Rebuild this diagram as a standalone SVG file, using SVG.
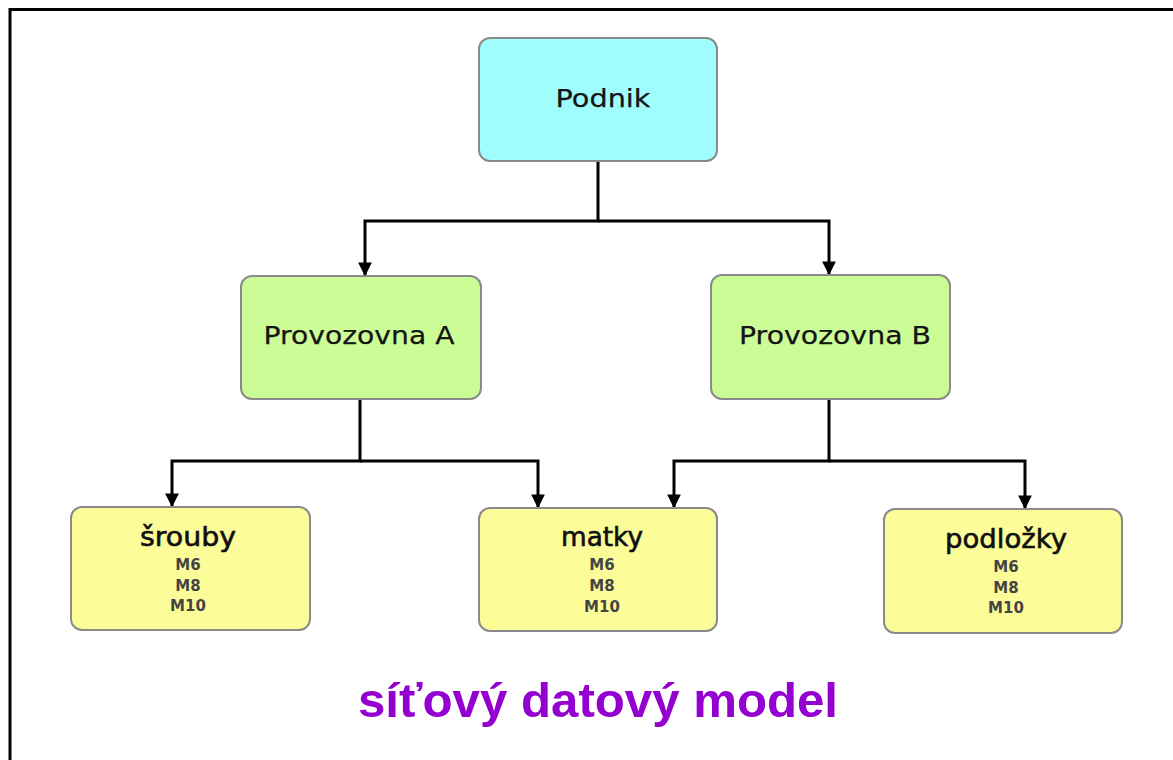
<svg xmlns="http://www.w3.org/2000/svg" width="1173" height="760" viewBox="0 0 1173 760">
<style>
.box{stroke:#8a8a8a;stroke-width:2}
.top{fill:#9ffdfd}
.mid{fill:#ccfc95}
.leaf{fill:#fcfc99}
.lbl{font-family:"DejaVu Sans",Verdana,sans-serif;font-size:25px;fill:#151515;text-anchor:middle;stroke:#151515;stroke-width:0.25}
.head{font-family:"DejaVu Sans",Verdana,sans-serif;font-size:26px;fill:#101010;text-anchor:middle;stroke:#101010;stroke-width:0.6}
.sub{font-family:"DejaVu Sans",Verdana,sans-serif;font-size:15px;font-weight:bold;fill:#444;text-anchor:middle}
.ttl{font-family:"Liberation Sans",Arial,sans-serif;font-size:49px;font-weight:bold;fill:#9400d0;text-anchor:middle}
.con{fill:none;stroke:#000;stroke-width:3}
</style>
<defs>
<marker id="arr" markerWidth="4.6" markerHeight="4.6" refX="4.2" refY="2.3" orient="auto" markerUnits="strokeWidth">
<path d="M0,0 L4.6,2.3 L0,4.6 Z" fill="#000"/>
</marker>
</defs>
<rect width="1173" height="760" fill="#fff"/>
<path d="M10,760 V9.5 H1173" fill="none" stroke="#000" stroke-width="3"/>
<g id="connectors">
<path class="con" d="M598,161 V221 H365 V275" marker-end="url(#arr)"/>
<path class="con" d="M598,221 H829 V274" marker-end="url(#arr)"/>
<path class="con" d="M360,399 V461 H172 V506" marker-end="url(#arr)"/>
<path class="con" d="M360,461 H538 V507" marker-end="url(#arr)"/>
<path class="con" d="M829,399 V461 H674 V507" marker-end="url(#arr)"/>
<path class="con" d="M829,461 H1025 V508" marker-end="url(#arr)"/>
</g>
<g id="podnik">
<rect class="box top" x="479" y="38" width="238" height="123" rx="11"/>
<text class="lbl" x="603" y="107" textLength="95" lengthAdjust="spacingAndGlyphs">Podnik</text>
</g>
<g id="provozovnaA">
<rect class="box mid" x="241" y="276" width="240" height="123" rx="11"/>
<text class="lbl" x="359" y="344" textLength="191" lengthAdjust="spacingAndGlyphs">Provozovna A</text>
</g>
<g id="provozovnaB">
<rect class="box mid" x="711" y="275" width="239" height="124" rx="11"/>
<text class="lbl" x="835" y="344" textLength="192" lengthAdjust="spacingAndGlyphs">Provozovna B</text>
</g>
<g id="srouby">
<rect class="box leaf" x="71" y="507" width="239" height="123" rx="11"/>
<text class="head" x="188" y="546" textLength="96" lengthAdjust="spacingAndGlyphs">šrouby</text>
<text class="sub" x="188" y="570">M6</text>
<text class="sub" x="188" y="591">M8</text>
<text class="sub" x="188" y="611">M10</text>
</g>
<g id="matky">
<rect class="box leaf" x="479" y="508" width="238" height="123" rx="11"/>
<text class="head" x="602" y="546" textLength="82" lengthAdjust="spacingAndGlyphs">matky</text>
<text class="sub" x="602" y="570">M6</text>
<text class="sub" x="602" y="591">M8</text>
<text class="sub" x="602" y="612">M10</text>
</g>
<g id="podlozky">
<rect class="box leaf" x="884" y="509" width="238" height="124" rx="11"/>
<text class="head" x="1006" y="548" textLength="122" lengthAdjust="spacingAndGlyphs">podložky</text>
<text class="sub" x="1006" y="572">M6</text>
<text class="sub" x="1006" y="593">M8</text>
<text class="sub" x="1006" y="613">M10</text>
</g>
<text class="ttl" x="598" y="717" textLength="480" lengthAdjust="spacingAndGlyphs">síťový datový model</text>
</svg>
